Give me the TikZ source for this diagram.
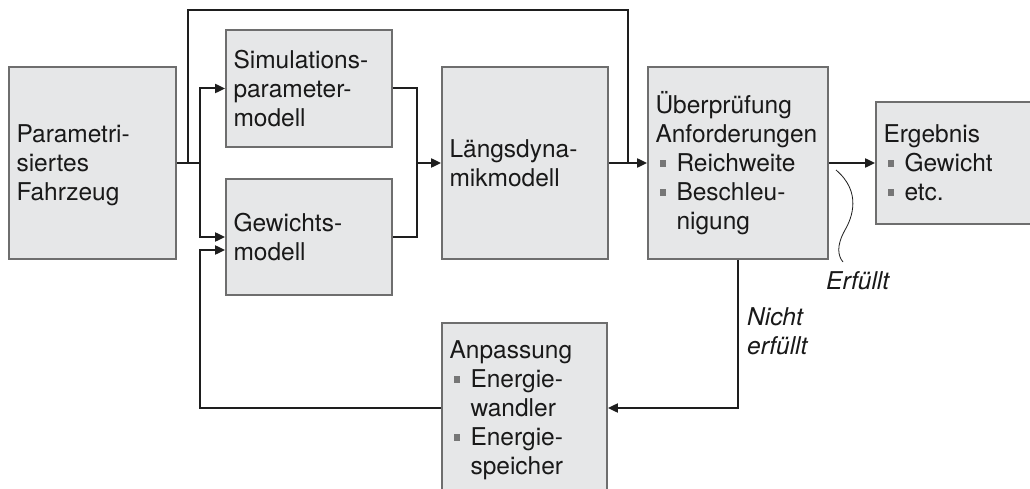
\documentclass[tikz,border=0pt]{standalone}
\usepackage{fontspec}
\setmainfont{TeX Gyre Heros}
\usetikzlibrary{arrows.meta}
\definecolor{boxfill}{HTML}{E6E7E8}
\definecolor{boxline}{HTML}{6E6E6E}
\definecolor{linecol}{HTML}{1E1E1E}
\definecolor{bulletgray}{HTML}{767676}
\newcommand{\bul}{\makebox[21pt][l]{\hspace{4pt}\textcolor{bulletgray}{\rule[5pt]{6.5pt}{6.5pt}}}}
\newcommand{\ind}{\hspace*{21pt}}
\newcommand{\mystrut}{\rule[-5.7pt]{0pt}{29pt}}
\begin{document}
\begin{tikzpicture}[x=1pt,y=-1pt,
  blk/.style={draw=boxline, line width=1.8pt, fill=boxfill, inner xsep=7.5pt, inner ysep=0pt,
    align=left, font=\fontsize{24.5}{29}\selectfont, text=black!90,
    execute at begin node=\mystrut, execute at end node=\mystrut},
  conn/.style={draw=linecol, line width=2pt},
  arr/.style={conn, -{Triangle[length=10pt,width=9pt]}},
  lbl/.style={font=\fontsize{24.5}{29}\selectfont\itshape, align=left, inner sep=0pt, text=black!90},
  thin/.style={draw=linecol, line width=0.8pt}]
\fill[white] (0,0) rectangle (1030,489);
\useasboundingbox (0,0) rectangle (1030,489);

\node[blk, minimum width=167pt, minimum height=192pt, text width=152pt] (fz) at (92.5,163) {Parametri-\\siertes\\Fahrzeug};
\node[blk, minimum width=166pt, minimum height=117pt, text width=151pt] (sim) at (309,88.5) {Simulations-\\parameter-\\modell};
\node[blk, minimum width=166pt, minimum height=116pt, text width=151pt] (gew) at (309,237) {Gewichts-\\modell};
\node[blk, minimum width=166pt, minimum height=192pt, text width=151pt] (lds) at (525,163) {Längsdyna-\\mikmodell};
\node[blk, minimum width=180pt, minimum height=192pt, text width=165pt] (chk) at (738,163) {Überprüfung\\Anforderungen\\\bul Reichweite\\\bul Beschleu-\\\ind nigung};
\node[blk, minimum width=180pt, minimum height=122pt, text width=165pt] (erg) at (966,163) {Ergebnis\\\bul Gewicht\\\bul etc.};
\node[blk, minimum width=165pt, minimum height=170pt, text width=150pt] (anp) at (524.5,408) {Anpassung\\\bul Energie-\\\ind wandler\\\bul Energie-\\\ind speicher};

\coordinate (split) at (200,163);
\coordinate (tap) at (188,163);
\coordinate (topL) at (188,10);
\coordinate (topR) at (628,10);
\coordinate (join) at (628,163);
\coordinate (merge) at (417,163);
\coordinate (fbc) at (200,250);

\draw[conn] (fz.east) -- (split);
\draw[arr] (split) |- (sim.west);
\draw[arr] (split) |- (gew.west);
\draw[conn] (tap) -- (topL) -- (topR) -- (join);
\draw[conn] (sim.east) -| (merge) |- (gew.east);
\draw[arr] (merge) -- (lds.west);
\draw[arr] (lds.east) -- (chk.west);
\draw[arr] (chk.east) -- (erg.west);
\draw[arr] (chk.south) |- (anp.east);
\draw[arr] (anp.west) -| (fbc) -- (fbc -| gew.west);

\node[lbl, anchor=west] (erf) at (826,281) {Erfüllt};
\node[lbl, anchor=west] (nerf) at (747,331) {Nicht\\erfüllt};

\coordinate (c1) at (836,170);
\coordinate (c2) at (845,230);
\coordinate (c3) at (843,262);
\draw[thin] (c1) .. controls (862,192) and (852,218) .. (c2) .. controls (836,246) and (838,256) .. (c3);
\end{tikzpicture}
\end{document}
